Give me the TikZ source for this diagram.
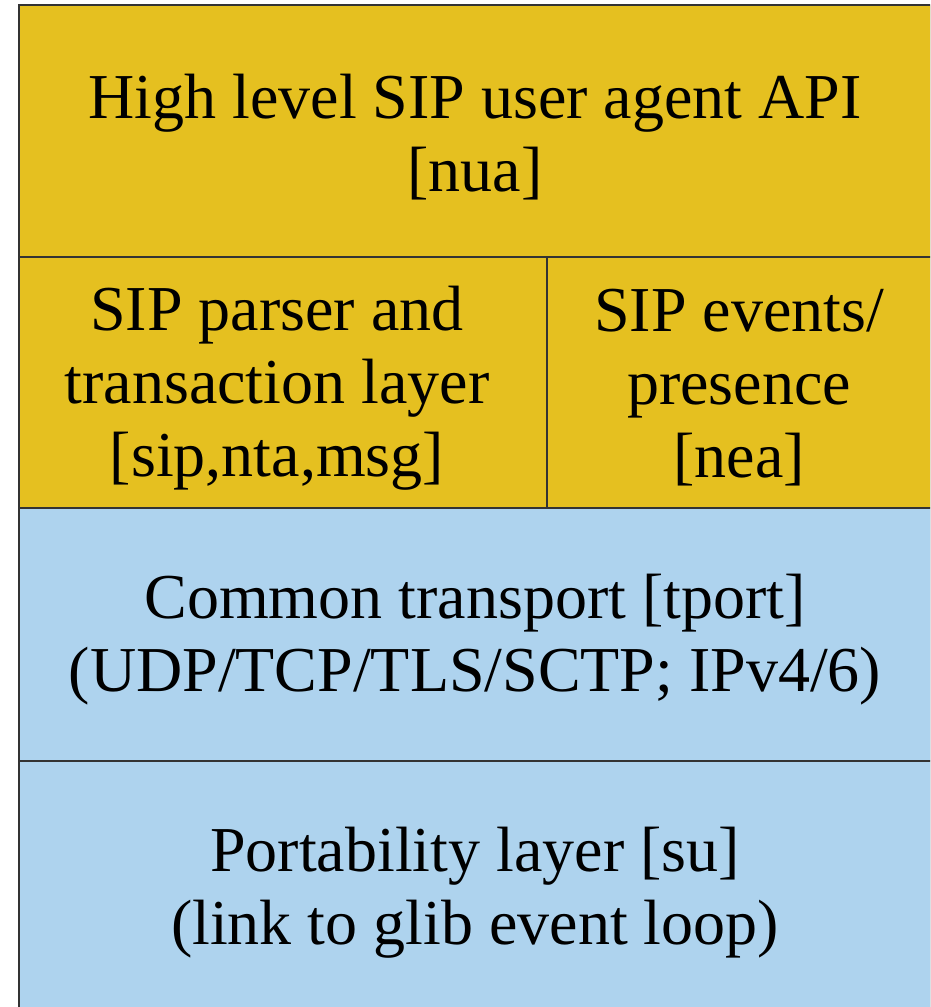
\documentclass[tikz,border=0pt]{standalone}
\usepackage{fontspec}
\setmainfont{Liberation Serif}
\definecolor{gold}{HTML}{E5C020}
\definecolor{sky}{HTML}{AED3EE}
\definecolor{edge}{HTML}{333333}
\begin{document}
\begin{tikzpicture}[x=1pt,y=-1pt,
  cell/.style={draw=edge, line width=2.5pt, anchor=north west, inner sep=0pt, outer sep=0pt},
  txt/.style={inner sep=0pt, align=center, font=\fontsize{64}{73}\selectfont},
  ]
\useasboundingbox (0,0) rectangle (930,1007);
\begin{scope}
\clip (0,0) rectangle (930,1007);
\node[cell, fill=gold, minimum width=912pt, minimum height=252pt] (nua) at (19,5) {};
\node[cell, fill=gold, minimum width=528pt, minimum height=251pt] (sip) at (19,257) {};
\node[cell, fill=gold, minimum width=384pt, minimum height=251pt] (nea) at (547,257) {};
\node[cell, fill=sky, minimum width=912pt, minimum height=253pt] (tport) at (19,508) {};
\node[cell, fill=sky, minimum width=912pt, minimum height=258pt] (su) at (19,761) {};
\end{scope}
\node[txt] (nuaT) at ([yshift=-6pt]nua.center) {High level SIP user agent API\\{}[nua]};
\node[txt] (sipT) at ([xshift=-6pt,yshift=-6pt]sip.center) {SIP parser and\\transaction layer\\{}[sip,nta,msg]};
\node[txt] (neaT) at ([yshift=-5pt]nea.center) {SIP events/\\presence\\{}[nea]};
\node[txt] (tportT) at ([yshift=-5pt]tport.center) {Common transport [tport]\\(UDP/TCP/TLS/SCTP; IPv4/6)};
\node[txt] (suT) at ([yshift=-3pt]su.center) {Portability layer [su]\\(link to glib event loop)};
\end{tikzpicture}
\end{document}
